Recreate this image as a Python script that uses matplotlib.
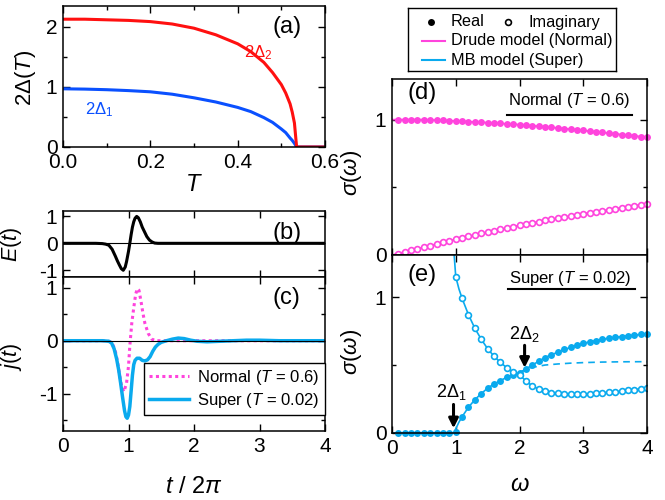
import matplotlib
matplotlib.use('Agg')
import matplotlib.pyplot as plt
from matplotlib.ticker import MultipleLocator
from matplotlib.lines import Line2D

plt.rcParams['font.family'] = ['Liberation Sans', 'DejaVu Sans']
plt.rcParams['mathtext.fontset'] = 'custom'
plt.rcParams['mathtext.rm'] = 'Liberation Sans'
plt.rcParams['mathtext.it'] = 'Liberation Sans:italic'
plt.rcParams['axes.unicode_minus'] = False

RED = '#ff1010'
BLUE = '#0a50ff'
MAG = '#ff44dd'
CYAN = '#0aaaee'

# (a) gap vs temperature
T_gap = [0.0, 0.05, 0.10, 0.15, 0.20, 0.25, 0.30, 0.35, 0.40, 0.43, 0.46, 0.48,
         0.50, 0.51, 0.52, 0.525, 0.53, 0.535, 0.60]
gap2 = [2.13, 2.13, 2.12, 2.11, 2.09, 2.05, 1.98, 1.87, 1.72, 1.59, 1.41, 1.24,
        1.04, 0.90, 0.72, 0.58, 0.40, 0.0, 0.0]
gap1 = [0.97, 0.965, 0.955, 0.94, 0.92, 0.88, 0.82, 0.75, 0.66, 0.59, 0.49, 0.41,
        0.30, 0.24, 0.15, 0.11, 0.06, 0.0, 0.0]

# (b) electric field pulse
t_E = [0.0, 0.5, 0.6, 0.65, 0.7, 0.75, 0.8, 0.83, 0.86, 0.89, 0.92, 0.95, 0.97,
       1.0, 1.02, 1.04, 1.06, 1.08, 1.1, 1.125, 1.15, 1.18, 1.21, 1.25, 1.28,
       1.32, 1.36, 1.4, 1.45, 4.0]
E_t = [0.0, 0.0, -0.01, -0.03, -0.07, -0.22, -0.48, -0.65, -0.8, -0.94, -1.0,
       -0.88, -0.68, -0.3, 0.0, 0.32, 0.6, 0.8, 0.93, 1.0, 0.95, 0.8, 0.6, 0.4,
       0.25, 0.12, 0.05, 0.01, 0.0, 0.0]

# (c) current, normal and super
t_jn = [0.0, 0.65, 0.72, 0.76, 0.8, 0.83, 0.86, 0.895, 0.93, 0.97, 1.0, 1.02,
        1.05, 1.08, 1.11, 1.135, 1.16, 1.19, 1.22, 1.25, 1.3, 1.355, 1.42, 1.5, 4.0]
j_norm = [0.0, 0.0, -0.02, -0.07, -0.2, -0.38, -0.61, -0.86, -0.96, -0.8, -0.48,
          -0.1, 0.33, 0.62, 0.88, 0.98, 0.95, 0.75, 0.52, 0.33, 0.14, 0.03, 0.0,
          0.0, 0.0]
t_js = [0.0, 0.6, 0.7, 0.74, 0.78, 0.82, 0.85, 0.88, 0.91, 0.94, 0.96, 0.98, 1.0,
        1.02, 1.04, 1.06, 1.08, 1.1, 1.13, 1.17, 1.21, 1.25, 1.29, 1.33, 1.37,
        1.41, 1.45, 1.5, 1.58, 1.67, 1.76, 1.85, 1.95, 2.05, 2.2, 2.4, 2.6, 2.8,
        3.0, 3.3, 4.0]
j_sup = [0.0, 0.0, -0.01, -0.04, -0.15, -0.35, -0.55, -0.8, -1.07, -1.32, -1.43,
         -1.46, -1.4, -1.24, -0.95, -0.65, -0.45, -0.37, -0.33, -0.33, -0.37,
         -0.38, -0.36, -0.3, -0.2, -0.12, -0.07, -0.03, 0.0, 0.03, 0.05, 0.04,
         0.01, -0.01, -0.02, -0.01, 0.0, 0.01, 0.01, 0.0, 0.0]

# (d) normal state conductivity (Drude)
w = [0.1, 0.2, 0.3, 0.4, 0.5, 0.6, 0.7, 0.8, 0.9, 1.0,
     1.1, 1.2, 1.3, 1.4, 1.5, 1.6, 1.7, 1.8, 1.9, 2.0,
     2.1, 2.2, 2.3, 2.4, 2.5, 2.6, 2.7, 2.8, 2.9, 3.0,
     3.1, 3.2, 3.3, 3.4, 3.5, 3.6, 3.7, 3.8, 3.9, 4.0]
sn_re = [1.0, 1.0, 1.0, 1.0, 1.0, 0.998, 0.995, 0.994, 0.992, 0.99,
         0.988, 0.986, 0.984, 0.981, 0.978, 0.975, 0.972, 0.969, 0.966, 0.963,
         0.959, 0.955, 0.951, 0.947, 0.943, 0.939, 0.934, 0.93, 0.925, 0.92,
         0.915, 0.91, 0.905, 0.9, 0.895, 0.89, 0.885, 0.88, 0.875, 0.87]
sn_im = [0.01, 0.022, 0.034, 0.046, 0.058, 0.07, 0.082, 0.094, 0.105, 0.117,
         0.127, 0.138, 0.148, 0.159, 0.169, 0.179, 0.189, 0.2, 0.21, 0.22,
         0.229, 0.238, 0.247, 0.256, 0.264, 0.273, 0.281, 0.289, 0.297, 0.305,
         0.313, 0.32, 0.328, 0.335, 0.342, 0.349, 0.357, 0.364, 0.371, 0.378]
w_drude = [0.0, 0.5, 1.0, 1.5, 2.0, 2.5, 3.0, 3.5, 4.0]
drude_re = [1.0, 1.0, 0.99, 0.978, 0.963, 0.943, 0.92, 0.895, 0.87]
drude_im = [0.0, 0.058, 0.117, 0.169, 0.22, 0.264, 0.305, 0.342, 0.378]

# (e) superconducting conductivity (MB model)
ss_re = [0.0, 0.0, 0.0, 0.0, 0.0, 0.0, 0.0, 0.0, 0.0, 0.01,
         0.12, 0.19, 0.245, 0.29, 0.33, 0.36, 0.385, 0.41, 0.43, 0.445,
         0.47, 0.5, 0.53, 0.555, 0.575, 0.595, 0.615, 0.63, 0.645, 0.66,
         0.67, 0.68, 0.69, 0.7, 0.705, 0.71, 0.715, 0.72, 0.725, 0.73]
w_im = [1.0, 1.1, 1.2, 1.3, 1.4, 1.5, 1.6, 1.7, 1.8, 1.9, 2.0,
        2.1, 2.2, 2.3, 2.4, 2.5, 2.6, 2.7, 2.8, 2.9, 3.0,
        3.1, 3.2, 3.3, 3.4, 3.5, 3.6, 3.7, 3.8, 3.9, 4.0]
ss_im = [1.15, 0.99, 0.87, 0.77, 0.69, 0.62, 0.565, 0.52, 0.48, 0.45, 0.425,
         0.385, 0.345, 0.325, 0.31, 0.298, 0.292, 0.288, 0.285, 0.284, 0.285,
         0.288, 0.291, 0.295, 0.299, 0.304, 0.309, 0.314, 0.319, 0.324, 0.33]
w_mb_re = [0.0, 0.97, 1.0, 1.05, 1.1, 1.2, 1.3, 1.4, 1.5, 1.6, 1.7, 1.8, 1.9, 2.0,
           2.1, 2.2, 2.4, 2.6, 2.8, 3.0, 3.3, 3.6, 4.0]
mb_re = [0.0, 0.0, 0.03, 0.08, 0.12, 0.19, 0.245, 0.29, 0.33, 0.36, 0.385, 0.41,
         0.43, 0.445, 0.47, 0.5, 0.555, 0.595, 0.63, 0.66, 0.69, 0.71, 0.73]
w_mb_im = [0.96, 0.975, 1.0, 1.05, 1.1, 1.2, 1.3, 1.4, 1.5, 1.6, 1.7, 1.8, 1.9,
           2.0, 2.1, 2.2, 2.3, 2.5, 2.7, 2.9, 3.1, 3.3, 3.5, 3.7, 4.0]
mb_im = [1.42, 1.31, 1.15, 1.06, 0.99, 0.87, 0.77, 0.69, 0.62, 0.565, 0.52, 0.48,
         0.45, 0.425, 0.385, 0.345, 0.325, 0.298, 0.288, 0.284, 0.288, 0.295,
         0.304, 0.314, 0.33]
w_dash = [2.0, 2.2, 2.4, 2.6, 2.8, 3.0, 3.3, 3.6, 4.0]
mb1_re = [0.445, 0.483, 0.5, 0.508, 0.514, 0.518, 0.522, 0.524, 0.525]

fig = plt.figure(figsize=(6.65, 5), dpi=100)
ax_a = fig.add_axes([63/665, 1-147/500, 262/665, 141/500])
ax_b = fig.add_axes([63/665, 1-277/500, 262/665, 66/500])
ax_c = fig.add_axes([63/665, 1-431/500, 262/665, 154/500])
ax_d = fig.add_axes([392/665, 1-255/500, 255/665, 176/500])
ax_e = fig.add_axes([392/665, 1-433/500, 255/665, 178/500])
ax_leg = fig.add_axes([408/665, 1-71/500, 208/665, 63/500])

for ax in [ax_a, ax_b, ax_c, ax_d, ax_e]:
    ax.tick_params(which='both', direction='in', top=True, right=True,
                   labelsize=15, width=1, pad=4)
    ax.tick_params(which='major', length=5)
    ax.tick_params(which='minor', length=3)
    for s in ax.spines.values():
        s.set_linewidth(1.1)

# (a)
ax_a.plot(T_gap, gap1, color=BLUE, lw=2.2)
ax_a.plot(T_gap, gap2, color=RED, lw=2.2)
ax_a.set_xlim(0, 0.6)
ax_a.set_ylim(0, 2.35)
ax_a.xaxis.set_major_locator(MultipleLocator(0.2))
ax_a.xaxis.set_minor_locator(MultipleLocator(0.1))
ax_a.xaxis.set_major_formatter(matplotlib.ticker.FormatStrFormatter('%.1f'))
ax_a.yaxis.set_major_locator(MultipleLocator(1))
ax_a.yaxis.set_minor_locator(MultipleLocator(0.5))
ax_a.set_xlabel(r'$T$', fontsize=17, labelpad=2)
ax_a.set_ylabel(r'2Δ($T$)', fontsize=16)
ax_a.yaxis.set_label_coords(-0.095, 0.49)
ax_a.text(0.857, 0.85, '(a)', transform=ax_a.transAxes, fontsize=17,
          ha='center', va='center')
ax_a.text(0.415, 1.58, r'2Δ$_2$', color=RED, fontsize=12, va='center')
ax_a.text(0.05, 0.62, r'2Δ$_1$', color=BLUE, fontsize=12, va='center')

# (b)
ax_b.axhline(0, color='k', lw=0.8, zorder=3)
ax_b.plot(t_E, E_t, color='k', lw=2.2)
ax_b.set_xlim(0, 4)
ax_b.set_ylim(-1.25, 1.2)
ax_b.xaxis.set_major_locator(MultipleLocator(1))
ax_b.yaxis.set_major_locator(MultipleLocator(1))
ax_b.tick_params(labelbottom=False)
ax_b.set_ylabel(r'$E$($t$)', fontsize=15.5)
ax_b.yaxis.set_label_coords(-0.15, 0.5)
ax_b.text(0.854, 0.66, '(b)', transform=ax_b.transAxes, fontsize=17,
          ha='center', va='center')

# (c)
ax_c.axhline(0, color='k', lw=0.8, zorder=3)
ax_c.plot(t_jn, j_norm, color=MAG, lw=2.2, ls=(0, (1, 1.1)),
          label=r'Normal ($T$ = 0.6)')
ax_c.plot(t_js, j_sup, color=CYAN, lw=2.5, label=r'Super ($T$ = 0.02)')
ax_c.set_xlim(0, 4)
ax_c.set_ylim(-1.7, 1.2)
ax_c.xaxis.set_major_locator(MultipleLocator(1))
ax_c.yaxis.set_major_locator(MultipleLocator(1))
ax_c.yaxis.set_minor_locator(MultipleLocator(0.5))
ax_c.set_xlabel(r'$t$ / 2$\pi$', fontsize=17, labelpad=15)
ax_c.set_ylabel(r'$j$($t$)', fontsize=15.5)
ax_c.yaxis.set_label_coords(-0.15, 0.48)
ax_c.text(0.854, 0.862, '(c)', transform=ax_c.transAxes, fontsize=17,
          ha='center', va='center')
leg = ax_c.legend(loc='lower right', bbox_to_anchor=(1.0, 0.104),
                  borderaxespad=0, fontsize=12, handlelength=2.4,
                  handletextpad=0.5, labelspacing=0.25, borderpad=0.3,
                  fancybox=False, edgecolor='k', framealpha=1)
leg.get_frame().set_linewidth(1.0)

# (d)
ax_d.plot(w_drude, drude_re, color=MAG, lw=1.2)
ax_d.plot(w_drude, drude_im, color=MAG, lw=1.2)
ax_d.plot(w, sn_re, 'o', color=MAG, ms=5, mew=0, clip_on=False)
ax_d.plot(w, sn_im, 'o', color=MAG, mfc='white', ms=4.2, mew=1.2,
          clip_on=False)
ax_d.set_xlim(0, 4)
ax_d.set_ylim(0, 1.3)
ax_d.xaxis.set_major_locator(MultipleLocator(1))
ax_d.yaxis.set_major_locator(MultipleLocator(1))
ax_d.yaxis.set_minor_locator(MultipleLocator(0.5))
ax_d.tick_params(labelbottom=False)
ax_d.set_ylabel(r'$\sigma$($\omega$)', fontsize=16)
ax_d.yaxis.set_label_coords(-0.11, 0.466)
ax_d.text(0.119, 0.919, '(d)', transform=ax_d.transAxes, fontsize=17,
          ha='center', va='center')
ax_d.text(0.694, 0.88, r'Normal ($T$ = 0.6)', transform=ax_d.transAxes,
          fontsize=12, ha='center', va='center')
ax_d.plot([0.45, 0.94], [0.795, 0.795], color='k', lw=1.5,
          transform=ax_d.transAxes)

# (e)
ax_e.plot(w_mb_re, mb_re, color=CYAN, lw=1.2)
ax_e.plot(w_mb_im, mb_im, color=CYAN, lw=1.2)
ax_e.plot(w_dash, mb1_re, color=CYAN, lw=1.2, ls=(0, (4, 3)))
ax_e.plot(w, ss_re, 'o', color=CYAN, ms=5, mew=0, clip_on=False)
ax_e.plot(w_im, ss_im, 'o', color=CYAN, mfc='white', ms=4.2, mew=1.2)
ax_e.set_xlim(0, 4)
ax_e.set_ylim(0, 1.31)
ax_e.xaxis.set_major_locator(MultipleLocator(1))
ax_e.yaxis.set_major_locator(MultipleLocator(1))
ax_e.yaxis.set_minor_locator(MultipleLocator(0.5))
ax_e.set_xlabel(r'$\omega$', fontsize=17, labelpad=12)
ax_e.set_ylabel(r'$\sigma$($\omega$)', fontsize=16)
ax_e.yaxis.set_label_coords(-0.11, 0.455)
ax_e.text(0.119, 0.888, '(e)', transform=ax_e.transAxes, fontsize=17,
          ha='center', va='center')
ax_e.text(0.70, 0.87, r'Super ($T$ = 0.02)', transform=ax_e.transAxes,
          fontsize=12, ha='center', va='center')
ax_e.plot([0.455, 0.953], [0.807, 0.807], color='k', lw=1.5,
          transform=ax_e.transAxes)
ax_e.annotate('', xy=(0.965, 0.035), xytext=(0.965, 0.21),
              arrowprops=dict(arrowstyle='-|>', color='k', lw=2.2,
                              mutation_scale=14, shrinkA=0, shrinkB=0))
ax_e.text(0.93, 0.3, r'2Δ$_1$', fontsize=13, ha='center', va='center')
ax_e.annotate('', xy=(2.08, 0.48), xytext=(2.08, 0.645),
              arrowprops=dict(arrowstyle='-|>', color='k', lw=2.2,
                              mutation_scale=14, shrinkA=0, shrinkB=0))
ax_e.text(2.08, 0.73, r'2Δ$_2$', fontsize=13, ha='center', va='center')

# legend box on top right
ax_leg.set_xlim(0, 208)
ax_leg.set_ylim(63, 0)
ax_leg.set_xticks([])
ax_leg.set_yticks([])
for s in ax_leg.spines.values():
    s.set_linewidth(1.0)
ax_leg.add_line(Line2D([22.7], [14], marker='o', color='k', ms=5, mew=0))
ax_leg.text(43, 14, 'Real', fontsize=11.7, va='center')
ax_leg.add_line(Line2D([100], [14], marker='o', color='k', mfc='white',
                       ms=4.2, mew=1.2))
ax_leg.text(120, 14, 'Imaginary', fontsize=11.7, va='center')
ax_leg.add_line(Line2D([13.7, 37], [32.7, 32.7], color=MAG, lw=1.5))
ax_leg.text(43, 32.7, 'Drude model (Normal)', fontsize=11.7, va='center')
ax_leg.add_line(Line2D([13.7, 37], [52, 52], color=CYAN, lw=1.5))
ax_leg.text(43, 52, 'MB model (Super)', fontsize=11.7, va='center')

fig.savefig('out.png', dpi=100)
